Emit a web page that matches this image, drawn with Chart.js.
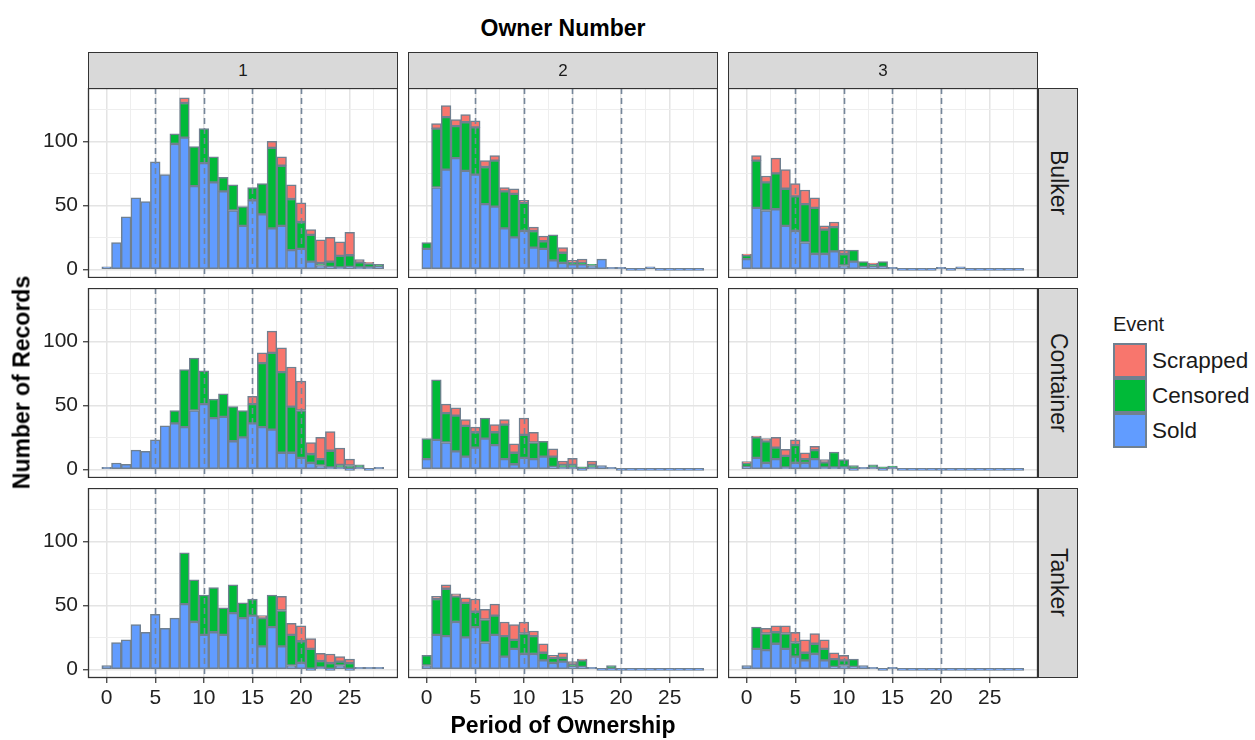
<!DOCTYPE html>
<html>
<head>
<meta charset="utf-8">
<script src="https://cdn.jsdelivr.net/npm/chart.js@4.4.1/dist/chart.umd.min.js"></script>
<style>
  body { margin: 0; background: #fff; font-family: "Liberation Sans", Arial, sans-serif; color: #1a1a1a; }
  #wrap { position: relative; width: 1255px; height: 740px; overflow: hidden; }
  #wrap canvas { position: absolute; }
  .strip-top, .strip-right { position: absolute; box-sizing: border-box; background: #d9d9d9; border: 1.3px solid #333;
    display: flex; align-items: center; justify-content: center; color: #1a1a1a; }
  .strip-top { font-size: 17px; }
  .strip-right { font-size: 23px; writing-mode: vertical-rl; }
  .title { position: absolute; font-weight: bold; font-size: 23px; text-align: center; color: #000; }
  .legend-title { position: absolute; left: 1113px; top: 313px; font-size: 20px; }
  .key { position: absolute; left: 1113px; width: 34px; height: 35px; box-sizing: border-box; border: 2px solid #708090; }
  .key-label { position: absolute; left: 1152px; font-size: 22.5px; line-height: 35px; }
</style>
</head>
<body>
<div id="wrap"></div>
<script>
// bins of the histogram (period of ownership, years)
const bins = [0,1,2,3,4,5,6,7,8,9,10,11,12,13,14,15,16,17,18,19,20,21,22,23,24,25,26,27,28];
const owners = ["1", "2", "3"];
const shipTypes = ["Bulker", "Container", "Tanker"];
const eventNames = ["Scrapped", "Censored", "Sold"];
const xTicks = [0, 2.5, 5, 7.5, 10, 12.5, 15, 17.5, 20, 22.5, 25, 27.5];
const yTicks = [0, 25, 50, 75, 100, 125];
const dashedAt = [5, 10, 15, 20];

// Bulker
const bulker1Sold      = [2,21,41,56,53,84,74,98,103,65,83,68,61,46,34,54,43,32,34,15,16,6,3,2,1,2,1,1,2];
const bulker1Censored  = [0,0,0,0,0,0,0,8,27,31,27,20,11,20,15,10,24,63,47,40,21,21,2,4,9,9,4,3,2];
const bulker1Scrapped  = [0,0,0,0,0,0,0,0,4,0,0,0,0,0,0,0,0,5,7,11,15,4,18,19,11,18,2,1,0];
const bulker2Sold      = [16,64,78,87,77,74,51,49,32,25,30,17,16,7,5,4,4,3,8,1,1,0,0,2,0,0,0,0,0];
const bulker2Censored  = [5,46,41,25,38,37,29,36,29,34,22,13,6,20,8,1,1,1,0,0,0,0,0,0,0,0,0,0,0];
const bulker2Scrapped  = [0,4,9,5,6,5,5,4,3,4,2,3,4,0,4,2,3,0,0,0,0,0,0,0,0,0,0,0,0];
const bulker3Sold      = [8,48,46,47,34,30,21,12,12,14,3,6,2,2,2,1,0,0,0,0,1,0,2,0,0,0,0,0,0];
const bulker3Censored  = [3,37,22,28,29,27,30,36,19,19,9,9,4,2,4,0,0,0,0,0,0,0,0,0,0,0,0,0,0];
const bulker3Scrapped  = [1,4,5,12,15,10,11,8,3,4,3,0,0,1,0,0,0,0,0,0,0,0,0,0,0,0,0,0,0];
// Container
const container1Sold     = [1,5,4,15,14,23,34,36,33,46,51,40,41,22,25,36,33,31,13,13,9,5,3,1,1,0,1,0,1];
const container1Censored = [0,0,0,0,0,0,0,10,45,41,26,15,18,27,21,15,50,60,63,36,37,7,5,13,2,3,2,0,0];
const container1Scrapped = [0,0,0,0,0,0,0,0,0,0,0,0,0,0,0,6,8,17,19,31,23,9,17,15,13,5,0,0,0];
const container2Sold     = [8,23,21,14,10,17,24,19,8,4,9,8,10,2,1,1,0,1,3,1,0,0,0,0,0,0,0,0,0];
const container2Censored = [16,47,23,28,24,12,16,10,27,9,18,13,12,8,2,2,2,2,0,0,0,0,0,0,0,0,0,0,0];
const container2Scrapped = [0,0,7,6,5,4,0,6,4,7,13,8,0,6,3,5,0,3,0,0,0,0,0,0,0,0,0,0,0];
const container3Sold     = [2,9,5,8,1,5,5,8,1,1,1,0,1,1,0,1,0,0,0,0,0,0,0,0,0,0,0,0,0];
const container3Censored = [3,16,17,9,9,14,3,7,4,12,6,3,0,2,2,1,0,0,0,0,0,0,0,0,0,0,0,0,0];
const container3Scrapped = [1,1,2,8,5,4,5,3,2,0,0,0,0,0,0,0,0,0,0,0,0,0,0,0,0,0,0,0,0];
// Tanker
const tanker1Sold      = [3,21,23,35,29,43,32,40,51,37,27,29,27,44,40,42,18,33,18,3,5,0,1,0,3,0,1,1,1];
const tanker1Censored  = [0,0,0,0,0,0,0,0,40,33,31,35,21,22,12,13,22,25,28,24,17,16,5,5,3,5,0,0,0];
const tanker1Scrapped  = [0,0,0,0,0,0,0,0,0,0,0,0,0,0,0,0,2,0,11,9,12,8,6,7,4,3,0,0,0];
const tanker2Sold      = [3,27,26,37,25,33,21,27,10,16,12,12,7,5,6,2,2,1,0,0,0,0,0,0,0,0,0,0,0];
const tanker2Censored  = [8,28,37,20,27,12,18,15,16,7,16,14,6,4,3,2,5,0,0,3,0,0,0,0,0,0,0,0,0];
const tanker2Scrapped  = [0,2,3,2,4,10,8,9,11,12,9,4,7,2,4,2,1,0,0,0,0,0,0,0,0,0,0,0,0];
const tanker3Sold      = [3,16,15,20,16,10,7,12,7,2,3,2,3,1,0,1,0,0,0,0,0,0,0,0,0,0,0,0,0];
const tanker3Censored  = [0,17,13,9,12,11,6,8,9,6,4,6,0,0,0,0,0,0,0,0,0,0,0,0,0,0,0,0,0];
const tanker3Scrapped  = [0,0,4,5,6,8,10,8,7,5,4,0,0,0,0,0,0,0,0,0,0,0,0,0,0,0,0,0,0];

// rows = ship type, cols = owner number; each cell is [sold, censored, scrapped]
const panels = [
  [[bulker1Sold, bulker1Censored, bulker1Scrapped], [bulker2Sold, bulker2Censored, bulker2Scrapped], [bulker3Sold, bulker3Censored, bulker3Scrapped]],
  [[container1Sold, container1Censored, container1Scrapped], [container2Sold, container2Censored, container2Scrapped], [container3Sold, container3Censored, container3Scrapped]],
  [[tanker1Sold, tanker1Censored, tanker1Scrapped], [tanker2Sold, tanker2Censored, tanker2Scrapped], [tanker3Sold, tanker3Censored, tanker3Scrapped]]
];

const colors = { Sold: "#619CFF", Censored: "#00BA38", Scrapped: "#F8766D" };
const outline = "#708090";

// layout (px)
const colX = [88, 408, 728];
const rowY = [88, 288, 488];
const panelW = 310, panelH = 190;
const leftPad = 88, bottomPad = 42;

Chart.defaults.font.family = "'Liberation Sans', Arial, sans-serif";

const wrap = document.getElementById("wrap");

function addDiv(cls, style, text) {
  const d = document.createElement("div");
  d.className = cls;
  Object.assign(d.style, style);
  if (text !== undefined) d.textContent = text;
  wrap.appendChild(d);
  return d;
}

// panel frame + dashed reference lines
const panelDecor = {
  id: "panelDecor",
  afterDatasetsDraw(chart) {
    const { ctx, chartArea: a, scales: { x } } = chart;
    ctx.save();
    ctx.strokeStyle = "#75869a";
    ctx.lineWidth = 1.6;
    ctx.setLineDash([6, 4]);
    dashedAt.forEach(v => {
      const px = Math.round(x.getPixelForValue(v)) + 0.5;
      ctx.beginPath();
      ctx.moveTo(px, a.top);
      ctx.lineTo(px, a.bottom);
      ctx.stroke();
    });
    ctx.restore();
  },
  afterDraw(chart) {
    const { ctx, chartArea: a } = chart;
    ctx.save();
    ctx.strokeStyle = "#333";
    ctx.lineWidth = 1.3;
    ctx.strokeRect(a.left + 0.5, a.top + 0.5, a.right - a.left - 1, a.bottom - a.top - 1);
    ctx.restore();
  }
};

function makePanel(r, c) {
  const isLeft = c === 0, isBottom = r === 2;
  const lp = isLeft ? leftPad : 0;
  const bp = isBottom ? bottomPad : 0;
  const cv = document.createElement("canvas");
  cv.width = panelW + lp;
  cv.height = panelH + bp;
  cv.style.left = (colX[c] - lp) + "px";
  cv.style.top = rowY[r] + "px";
  wrap.appendChild(cv);

  const [sold, censored, scrapped] = panels[r][c];
  const ds = (label, data, extra) => Object.assign({
    label, data,
    backgroundColor: colors[label],
    borderColor: outline,
    borderWidth: 1.5,
    borderSkipped: false,
    grouped: false,
    categoryPercentage: 1,
    barPercentage: 1
  }, extra || {});

  new Chart(cv, {
    type: "bar",
    data: {
      labels: bins,
      datasets: [
        ds("Sold", sold, { minBarLength: 2 }),
        ds("Censored", censored),
        ds("Scrapped", scrapped)
      ]
    },
    options: {
      responsive: false,
      animation: false,
      events: [],
      layout: { padding: 0, autoPadding: false },
      plugins: { legend: { display: false }, tooltip: { enabled: false } },
      scales: {
        x: {
          type: "linear",
          min: -1.92, max: 29.97,
          offset: false,
          afterBuildTicks: s => { s.ticks = xTicks.map(v => ({ value: v })); },
          afterFit: s => { s.height = bp; s.paddingLeft = 0; s.paddingRight = 0; },
          ticks: {
            display: isBottom,
            autoSkip: false,
            maxRotation: 0,
            padding: 3,
            color: "#222",
            font: { size: 21 },
            callback: v => (v % 5 === 0 ? String(v) : "")
          },
          grid: {
            offset: false,
            drawTicks: isBottom,
            tickLength: 5,
            color: ctx => (ctx.tick && ctx.tick.value % 5 === 0 ? "#e4e4e4" : "#eeeeee"),
            lineWidth: ctx => (ctx.tick && ctx.tick.value % 5 === 0 ? 1.5 : 1),
            tickColor: ctx => (ctx.tick && ctx.tick.value % 5 === 0 ? "#333" : "rgba(0,0,0,0)"),
            tickWidth: 1.2
          },
          border: { display: false }
        },
        y: {
          type: "linear",
          stacked: true,
          min: -6.75, max: 141.75,
          afterBuildTicks: s => { s.ticks = yTicks.map(v => ({ value: v })); },
          afterFit: s => { s.width = lp; s.paddingTop = 0; s.paddingBottom = 0; },
          ticks: {
            display: isLeft,
            padding: 5,
            color: "#222",
            font: { size: 21 },
            callback: v => (v % 50 === 0 ? String(v) : "")
          },
          grid: {
            drawTicks: isLeft,
            tickLength: 5,
            color: ctx => (ctx.tick && ctx.tick.value % 50 === 0 ? "#e4e4e4" : "#eeeeee"),
            lineWidth: ctx => (ctx.tick && ctx.tick.value % 50 === 0 ? 1.5 : 1),
            tickColor: ctx => (ctx.tick && ctx.tick.value % 50 === 0 ? "#333" : "rgba(0,0,0,0)"),
            tickWidth: 1.2
          },
          border: { display: false }
        }
      }
    },
    plugins: [panelDecor]
  });
}

for (let r = 0; r < 3; r++) for (let c = 0; c < 3; c++) makePanel(r, c);

// strips
owners.forEach((o, c) => addDiv("strip-top", { left: colX[c] + "px", top: "52px", width: panelW + "px", height: "37px" }, o));
shipTypes.forEach((t, r) => addDiv("strip-right", { left: (colX[2] + panelW) + "px", top: rowY[r] + "px", width: "40px", height: panelH + "px" }, t));

// titles
addDiv("title", { left: colX[0] + "px", top: "15px", width: (colX[2] + panelW - colX[0]) + "px" }, "Owner Number");
addDiv("title", { left: colX[0] + "px", top: "712px", width: (colX[2] + panelW - colX[0]) + "px" }, "Period of Ownership");
addDiv("title", { left: "-178px", top: "369px", width: "400px", transform: "rotate(-90deg)" }, "Number of Records");

// legend
addDiv("legend-title", {}, "Event");
eventNames.forEach((name, i) => {
  const top = 343 + i * 35;
  addDiv("key", { top: top + "px", background: colors[name] });
  addDiv("key-label", { top: top + "px" }, name);
});
</script>
</body>
</html>
